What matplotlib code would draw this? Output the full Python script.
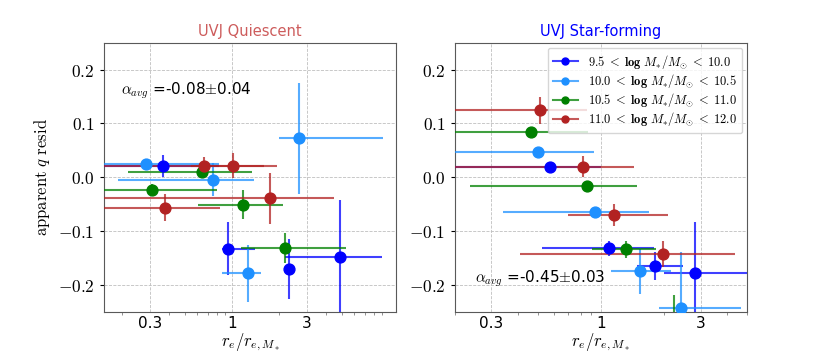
import matplotlib
matplotlib.use("Agg")
import matplotlib.pyplot as plt
from matplotlib.lines import Line2D
from matplotlib.colors import to_rgba
from matplotlib.ticker import FixedLocator, FixedFormatter, FuncFormatter, NullFormatter
import numpy as np

plt.rcParams['mathtext.fontset'] = 'cm'

# mass bins
bin_labels = [r'$\mathbf{9.5}\;<\;\mathbf{log}\ M_{*}/M_{\odot}\;<\;\mathbf{10.0}$',
              r'$\mathbf{10.0}\;<\;\mathbf{log}\ M_{*}/M_{\odot}\;<\;\mathbf{10.5}$',
              r'$\mathbf{10.5}\;<\;\mathbf{log}\ M_{*}/M_{\odot}\;<\;\mathbf{11.0}$',
              r'$\mathbf{11.0}\;<\;\mathbf{log}\ M_{*}/M_{\odot}\;<\;\mathbf{12.0}$']
bin_colors = ['#0000ff', '#1e90ff', '#008000', '#b22222']

# UVJ quiescent: one row per mass bin
q_x = [[0.362, 0.939, 2.32, 4.91],
       [0.283, 0.757, 2.68, 1.27],
       [0.309, 0.642, 1.175, 2.17],
       [0.66, 1.01, 1.744, 0.377]]
q_y = [[0.021, -0.133, -0.171, -0.149],
       [0.024, -0.005, 0.072, -0.179],
       [-0.0235, 0.0104, -0.051, -0.1315],
       [0.021, 0.021, -0.0396, -0.0569]]
q_xlo = [[0.1, 0.87, 2.2, 2.19],
         [0.1, 0.188, 1.99, 0.86],
         [0.1, 0.218, 0.608, 1.135],
         [0.1, 0.55, 0.1, 0.1]]
q_xhi = [[0.83, 1.41, 2.45, 9.0],
         [0.83, 1.38, 9.14, 1.54],
         [0.808, 1.35, 2.11, 5.33],
         [1.94, 1.6, 4.49, 0.839]]
q_yerr = [[0.021, 0.05, 0.056, 0.107],
          [0.01, 0.031, 0.103, 0.053],
          [0.01, 0.01, 0.027, 0.028],
          [0.017, 0.023, 0.048, 0.025]]

# UVJ star-forming
sf_x = [[0.574, 1.098, 1.806, 2.81],
        [0.50, 0.941, 1.547, 2.43],
        [0.466, 0.862, 1.325, 2.23],
        [0.514, 0.818, 1.161, 1.994]]
sf_y = [[0.0197, -0.132, -0.165, -0.178],
        [0.046, -0.065, -0.1748, -0.2426],
        [0.083, -0.0174, -0.1346, -0.265],
        [0.1246, 0.0197, -0.0705, -0.143]]
sf_xlo = [[0.1, 0.522, 1.49, 2.0],
          [0.1, 0.342, 1.12, 1.89],
          [0.1, 0.236, 0.907, 1.6],
          [0.1, 0.1, 0.70, 0.41]]
sf_xhi = [[1.0, 1.79, 2.48, 6.0],
          [0.93, 1.696, 2.17, 4.67],
          [0.864, 1.49, 1.83, 3.2],
          [0.86, 1.437, 2.10, 4.38]]
sf_yerr = [[0.008, 0.014, 0.026, 0.094],
           [0.008, 0.008, 0.043, 0.104],
           [0.006, 0.006, 0.015, 0.045],
           [0.025, 0.02, 0.021, 0.025]]

alpha_q = r'$\alpha_{avg}$ =-0.08$\pm$0.04'
alpha_sf = r'$\alpha_{avg}$ =-0.45$\pm$0.03'


def draw(ax, xs, ys, xlo, xhi, yerr):
    for i in range(4):
        x = np.array(xs[i])
        y = np.array(ys[i])
        xerr = [x - np.array(xlo[i]), np.array(xhi[i]) - x]
        ax.errorbar(x, y, xerr=xerr, yerr=yerr[i], fmt='o', ms=7.8,
                    color=bin_colors[i], ecolor=to_rgba(bin_colors[i], 0.75),
                    elinewidth=1.5, capsize=0, zorder=3)


def style(ax, xlim, title, tcolor):
    ax.set_xscale('log')
    ax.set_xlim(*xlim)
    ax.set_ylim(-0.25, 0.25)
    ax.xaxis.set_major_locator(FixedLocator([0.3, 1, 3]))
    ax.xaxis.set_major_formatter(FixedFormatter(['0.3', '1', '3']))
    ax.xaxis.set_minor_formatter(NullFormatter())
    ax.set_yticks([-0.2, -0.1, 0.0, 0.1, 0.2])
    ax.yaxis.set_major_formatter(FuncFormatter(lambda v, p: r'$\mathbf{%.1f}$' % v))
    ax.tick_params(axis='x', labelsize=11, length=0, pad=3)
    ax.tick_params(axis='x', which='minor', length=2, color='0.5')
    ax.tick_params(axis='y', labelsize=12.5, length=3)
    ax.grid(True, ls='--', color='0.75', lw=0.6)
    ax.set_axisbelow(True)
    for s in ax.spines.values():
        s.set_color('0.35')
    ax.set_title(title, color=tcolor, fontsize=10.5, pad=5)
    ax.set_xlabel(r'$r_e/r_{e,M_*}$', fontsize=12, labelpad=1)


fig, (ax1, ax2) = plt.subplots(1, 2, figsize=(8.3, 3.56), dpi=100)
fig.subplots_adjust(left=0.125, right=0.9, bottom=0.125, top=0.88, wspace=0.2)

draw(ax1, q_x, q_y, q_xlo, q_xhi, q_yerr)
draw(ax2, sf_x, sf_y, sf_xlo, sf_xhi, sf_yerr)

style(ax1, (0.153, 11.1), 'UVJ Quiescent', '#cd5c5c')
style(ax2, (0.2, 5), 'UVJ Star-forming', '#0000ff')
ax1.set_ylabel(r'$\mathrm{apparent}\ q\ \mathrm{resid}$', fontsize=12)

ax1.text(0.06, 0.82, alpha_q, transform=ax1.transAxes, fontsize=11, va='center')
ax2.text(0.07, 0.12, alpha_sf, transform=ax2.transAxes, fontsize=11, va='center')

handles = [Line2D([], [], color=to_rgba(c, 0.75), lw=1.5, marker='o', ms=5,
                  markerfacecolor=c, markeredgecolor=c) for c in bin_colors]
ax2.legend(handles, bin_labels, loc='upper right', fontsize=9,
           handlelength=2, labelspacing=0.1, borderaxespad=0.4,
           borderpad=0.4, framealpha=0.8)

fig.savefig('out.png', dpi=100)
